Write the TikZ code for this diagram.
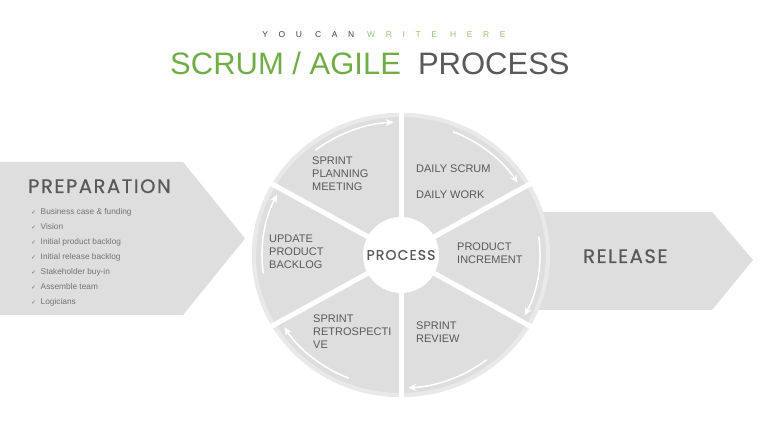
\documentclass[tikz,border=0pt]{standalone}
\usepackage{fontspec}
\setmainfont{Liberation Sans}
\newfontfamily\headfont[FakeBold=0.6, LetterSpace=8]{Poppins}
\newfontfamily\symfont{DejaVu Sans}
\usetikzlibrary{arrows.meta}
\usepackage{xcolor}

\definecolor{agilegreen}{HTML}{70AD47}
\definecolor{textgray}{HTML}{595959}
\definecolor{panelgray}{HTML}{DEDEDE}
\definecolor{rimgray}{HTML}{E9E9E9}

\newcommand{\checkitem}{{\symfont\fontsize{6}{6}\selectfont\char"2713}\hspace{4.5pt}}

\begin{document}
\begin{tikzpicture}[x=1pt, y=1pt,
    panel/.style={fill=panelgray, draw=none},
    divider/.style={draw=white, line width=5pt},
    flow/.style={draw=white, line width=1.5pt, -{Stealth[length=8pt, width=7pt]}},
    heading/.style={font=\headfont\fontsize{19.5}{22}\selectfont, text=textgray, inner sep=0pt, anchor=base west},
    stage/.style={font=\fontsize{11}{13}\selectfont, text=textgray, align=left, inner sep=0pt, anchor=north west},
]
\useasboundingbox (0,0) rectangle (760,428);

% --- title ---
\node[font=\fontsize{8.5}{10}\selectfont\addfontfeature{LetterSpace=125}, anchor=base, inner sep=0pt] (kicker) at (384,390)
    {\textcolor{black!75}{YOU CAN} \textcolor{agilegreen!75}{WRITE HERE}};
\node[font=\fontsize{31}{36}\selectfont, anchor=base west, inner sep=0pt] (title) at (170,353)
    {\textcolor{agilegreen}{SCRUM / AGILE}\hspace{17pt}\textcolor{textgray}{PROCESS}};

% --- side arrows ---
\path[panel] (500,216) -- (712,216) -- (753,168) -- (712,118) -- (500,118) -- cycle;
\path[panel] (0,266) -- (183,266) -- (245,189.5) -- (183,113) -- (0,113) -- cycle;

% --- wheel ---
\fill[panelgray] (401,173) ellipse [x radius=149, y radius=142];
\draw[rimgray, line width=4pt] (401,173) ellipse [x radius=147, y radius=140];
\foreach \a in {30,90,...,330}
    \draw[divider] (401,173) -- ++(\a:152 and 145);

\draw[flow] (401,173) ++(128:139 and 133) arc[start angle=128, end angle=93, x radius=139, y radius=133];
\draw[flow] (401,173) ++(68:139 and 133) arc[start angle=68, end angle=33, x radius=139, y radius=133];
\draw[flow] (401,173) ++(8:139 and 133) arc[start angle=8, end angle=-27, x radius=139, y radius=133];
\draw[flow] (401,173) ++(-52:139 and 133) arc[start angle=-52, end angle=-87, x radius=139, y radius=133];
\draw[flow] (401,173) ++(-112:139 and 133) arc[start angle=-112, end angle=-147, x radius=139, y radius=133];
\draw[flow] (401,173) ++(-172:139 and 133) arc[start angle=-172, end angle=-207, x radius=139, y radius=133];

\node[circle, fill=white, minimum size=76pt, inner sep=0pt, font=\headfont\fontsize{14}{16}\selectfont, text=textgray] (process) at (401,173) {PROCESS};

% --- stages ---
\node[stage] (planning) at (312,271) {SPRINT\\PLANNING\\MEETING};
\node[stage] (daily) at (416,263) {DAILY SCRUM\\[13pt]DAILY WORK};
\node[stage] (increment) at (457,185) {PRODUCT\\INCREMENT};
\node[stage] (review) at (416,106) {SPRINT\\REVIEW};
\node[stage] (retro) at (313,113) {SPRINT\\RETROSPECTI\\VE};
\node[stage] (backlog) at (269,193) {UPDATE\\PRODUCT\\BACKLOG};

% --- preparation / release ---
\node[heading] (prep) at (28,235) {PREPARATION};
\node[heading] (release) at (583,165) {RELEASE};

\node[anchor=north west, inner sep=0pt, align=left, font=\fontsize{8.3}{15}\selectfont, text=black!55] (tasks) at (31,220) {
    \checkitem Business case \& funding \\
    \checkitem Vision \\
    \checkitem Initial product backlog \\
    \checkitem Initial release backlog \\
    \checkitem Stakeholder buy-in \\
    \checkitem Assemble team \\
    \checkitem Logicians
};
\end{tikzpicture}
\end{document}
